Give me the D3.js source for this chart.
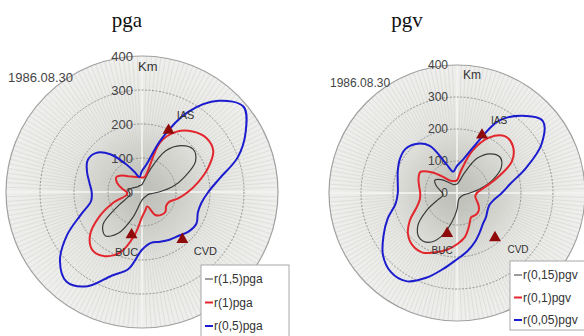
<!DOCTYPE html>
<html>
<head>
<meta charset="utf-8">
<script src="https://cdn.jsdelivr.net/npm/d3@7"></script>
<style>
  body { margin: 0; background: #fff; }
  svg text { font-family: "Liberation Sans", Arial, sans-serif; }
</style>
</head>
<body>
<svg id="chart" width="584" height="336"></svg>
<script>
// azimuth of each sample, degrees clockwise from north
const angles = [0, 10, 20, 30, 40, 50, 60, 70, 80, 90, 100, 110, 120, 130, 140, 150, 160, 170,
  180, 190, 200, 210, 220, 230, 240, 250, 260, 270, 280, 290, 300, 310, 320, 330, 340, 350];

// pga radii (km)
const pgaBlack = [22, 32, 70, 140, 178, 196, 182, 135, 92, 50, 28, 20, 18, 17, 17, 17, 18, 20,
  24, 35, 80, 140, 168, 150, 80, 44, 35, 38, 40, 32, 26, 22, 20, 20, 20, 20];
const pgaRed = [43, 45, 155, 205, 232, 247, 242, 207, 168, 135, 108, 85, 82, 90, 88, 78, 45, 55,
  74, 130, 190, 218, 225, 200, 145, 88, 45, 45, 60, 78, 87, 75, 60, 52, 47, 44];
const pgaBlue = [62, 85, 165, 272, 350, 390, 352, 300, 232, 195, 178, 175, 185, 180, 168, 162, 156, 152,
  170, 230, 262, 320, 345, 315, 255, 190, 152, 148, 157, 172, 185, 178, 145, 95, 62, 45];

// pgv radii (km)
const pgvBlack = [28, 35, 65, 125, 160, 175, 160, 118, 72, 40, 26, 20, 18, 17, 17, 17, 19, 24,
  52, 92, 145, 178, 183, 160, 110, 65, 45, 45, 55, 70, 80, 65, 45, 33, 28, 27];
const pgvRed = [40, 70, 140, 200, 232, 228, 198, 130, 82, 62, 58, 65, 78, 88, 90, 88, 110, 140,
  160, 180, 197, 215, 215, 200, 170, 135, 118, 115, 120, 128, 132, 100, 65, 45, 40, 38];
const pgvBlue = [85, 105, 155, 260, 315, 350, 305, 230, 170, 140, 118, 108, 110, 118, 126, 142, 163, 185,
  207, 240, 282, 318, 322, 302, 265, 230, 195, 185, 188, 197, 207, 212, 200, 170, 95, 68];

const stationNames = ['IAS', 'BUC', 'CVD'];
const stationAz = [23, 194, 139];
const stationDist = [200, 127, 181];

const ringTicks = [0, 100, 200, 300, 400];
const pgaLegend = ['r(1,5)pga', 'r(1)pga', 'r(0,5)pga'];
const pgvLegend = ['r(0,15)pgv', 'r(0,1)pgv', 'r(0,05)pgv'];
const seriesColors = ['#3a3a3a', '#e2262c', '#1c1ccf'];

const svg = d3.select('#chart');
const defs = svg.append('defs');

const grad = defs.append('radialGradient').attr('id', 'bg');
grad.append('stop').attr('offset', '0%').attr('stop-color', '#b9b9b1');
grad.append('stop').attr('offset', '25%').attr('stop-color', '#d2d2cc');
grad.append('stop').attr('offset', '55%').attr('stop-color', '#e6e6e3');
grad.append('stop').attr('offset', '100%').attr('stop-color', '#efefed');

const drawPolar = (cfg) => {
  const g = svg.append('g').attr('transform', `translate(${cfg.cx},${cfg.cy})`);
  const r = d3.scaleLinear().domain([0, 400]).range([0, cfg.R]);

  g.append('circle').attr('r', r(400)).attr('fill', 'url(#bg)');

  // fine spokes
  g.selectAll('.spoke')
    .data(d3.range(0, 360, 2))
    .enter()
    .append('line')
    .attr('x1', 0).attr('y1', 0)
    .attr('x2', (d) => r(400) * Math.sin(d * Math.PI / 180))
    .attr('y2', (d) => -r(400) * Math.cos(d * Math.PI / 180))
    .attr('stroke', '#c4c4c0')
    .attr('stroke-width', 0.5)
    .attr('opacity', 0.7);

  // main axes
  g.append('line').attr('x1', -r(400)).attr('x2', r(400)).attr('stroke', '#f6f6f4').attr('stroke-width', 1.5);
  g.append('line').attr('y1', -r(400)).attr('y2', r(400)).attr('stroke', '#f6f6f4').attr('stroke-width', 1.5);

  // rings
  g.selectAll('.ring')
    .data(ringTicks.slice(1))
    .enter()
    .append('circle')
    .attr('r', (d) => r(d))
    .attr('fill', 'none')
    .attr('stroke', (d) => (d === 400 ? '#a0a0a0' : '#8a8a8a'))
    .attr('stroke-width', (d) => (d === 400 ? 1.2 : 0.9))
    .attr('stroke-dasharray', (d) => (d === 400 ? null : '2,1.5'));

  g.selectAll('.tick')
    .data(ringTicks)
    .enter()
    .append('text')
    .attr('x', -9)
    .attr('y', (d) => -r(d))
    .attr('dy', '0.35em')
    .attr('text-anchor', 'end')
    .style('font-size', cfg.font + 'px')
    .attr('fill', '#444')
    .text((d) => d);

  g.append('text')
    .attr('x', cfg.kmX).attr('y', cfg.kmY)
    .style('font-size', cfg.font + 'px').attr('fill', '#333')
    .text('Km');

  g.append('text')
    .attr('x', cfg.dateX).attr('y', cfg.dateY)
    .attr('dy', '0.35em')
    .style('font-size', cfg.font + 'px').attr('fill', '#444')
    .text('1986.08.30');

  const line = d3.lineRadial()
    .angle((d) => d[0] * Math.PI / 180)
    .radius((d) => r(d[1]))
    .curve(d3.curveCatmullRomClosed.alpha(0.5));

  cfg.series.forEach((vals, i) => {
    g.append('path')
      .attr('d', line(angles.map((a, j) => [a, vals[j]])))
      .attr('fill', 'none')
      .attr('stroke', seriesColors[i])
      .attr('stroke-width', i === 0 ? 1.2 : 2);
  });

  // stations
  const labelOff = [[17, -14], [-5, 18], [23, 13]];
  stationNames.forEach((name, i) => {
    const a = stationAz[i] * Math.PI / 180;
    const x = r(stationDist[i]) * Math.sin(a);
    const y = -r(stationDist[i]) * Math.cos(a);
    g.append('path')
      .attr('d', d3.symbol(d3.symbolTriangle, 62)())
      .attr('transform', `translate(${x},${y + 1})`)
      .attr('fill', '#8e0a0a');
    g.append('text')
      .attr('x', x + labelOff[i][0]).attr('y', y + labelOff[i][1])
      .attr('dy', '0.35em')
      .attr('text-anchor', 'middle')
      .style('font-size', (cfg.font - 2) + 'px')
      .attr('fill', '#333')
      .text(name);
  });

  // legend
  const lg = svg.append('g').attr('transform', `translate(${cfg.legX},${cfg.legY})`);
  lg.append('rect')
    .attr('width', cfg.legW).attr('height', cfg.legH)
    .attr('fill', '#fff').attr('stroke', '#a8a8a8');
  cfg.legend.forEach((t, i) => {
    const y = cfg.legRow0 + i * cfg.legStep;
    lg.append('line')
      .attr('x1', 4).attr('x2', 12).attr('y1', y).attr('y2', y)
      .attr('stroke', seriesColors[i]).attr('stroke-width', i === 0 ? 1 : 2);
    lg.append('text')
      .attr('x', 13).attr('y', y).attr('dy', '0.35em')
      .style('font-size', '12px').attr('fill', '#333')
      .text(t);
  });

  svg.append('text')
    .attr('x', cfg.titleX).attr('y', 27)
    .attr('text-anchor', 'middle')
    .style('font-family', '"Liberation Serif", "Times New Roman", serif')
    .style('font-size', '21px')
    .attr('fill', '#111')
    .text(cfg.title);
};

drawPolar({
  cx: 142, cy: 192, R: 136, font: 13,
  kmX: -4, kmY: -121, dateX: -134, dateY: -115,
  series: [pgaBlack, pgaRed, pgaBlue],
  legend: pgaLegend,
  legX: 201, legY: 265, legW: 88, legH: 80, legRow0: 14, legStep: 23.5,
  title: 'pga', titleX: 127
});

drawPolar({
  cx: 457, cy: 193, R: 128, font: 12,
  kmX: 6, kmY: -114, dateX: -127, dateY: -110,
  series: [pgvBlack, pgvRed, pgvBlue],
  legend: pgvLegend,
  legX: 510, legY: 261, legW: 80, legH: 69, legRow0: 14, legStep: 22.5,
  title: 'pgv', titleX: 407
});
</script>
</body>
</html>
